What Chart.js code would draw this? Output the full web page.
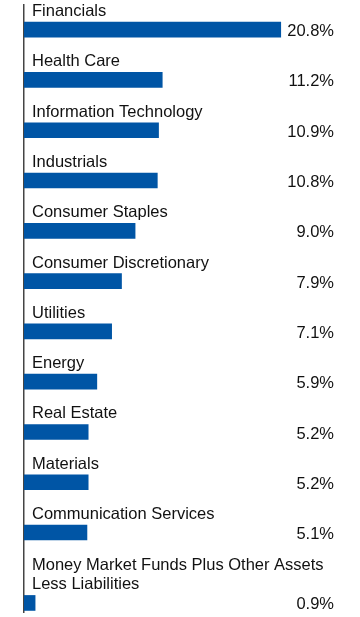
<!DOCTYPE html>
<html>
<head>
<meta charset="utf-8">
<script src="https://cdn.jsdelivr.net/npm/chart.js@4"></script>
<style>
  html, body { margin: 0; padding: 0; background: #fff; }
  #wrap { width: 360px; height: 617px; }
</style>
</head>
<body>
<div id="wrap"><canvas id="sector-chart"></canvas></div>
<script>
const categories = [
  ["Financials"],
  ["Health Care"],
  ["Information Technology"],
  ["Industrials"],
  ["Consumer Staples"],
  ["Consumer Discretionary"],
  ["Utilities"],
  ["Energy"],
  ["Real Estate"],
  ["Materials"],
  ["Communication Services"],
  ["Money Market Funds Plus Other Assets", "Less Liabilities"]
];
const values = [20.8, 11.2, 10.9, 10.8, 9.0, 7.9, 7.1, 5.9, 5.2, 5.2, 5.1, 0.9];
const valueLabels = ["20.8%", "11.2%", "10.9%", "10.8%", "9.0%", "7.9%", "7.1%", "5.9%", "5.2%", "5.2%", "5.1%", "0.9%"];

// each row takes one slot, plus a bit more for every extra label line
const rowPos = [];
categories.forEach((lines, i) => {
  rowPos.push(i === 0 ? 0 : rowPos[i - 1] + 1 + (lines.length - 1) * 0.4);
});

const FONT = "16.5px 'Liberation Sans', Arial, sans-serif";

const labelPlugin = {
  id: "labels",
  afterDatasetsDraw(chart) {
    const ctx = chart.ctx;
    const meta = chart.getDatasetMeta(0);
    ctx.save();
    ctx.font = FONT;
    ctx.fillStyle = "#111";
    meta.data.forEach((bar, i) => {
      const top = bar.y - bar.height / 2;
      const lines = categories[i];
      ctx.textAlign = "left";
      ctx.textBaseline = "alphabetic";
      lines.forEach((t, k) => {
        ctx.fillText(t, 32, top - 6 - (lines.length - 1 - k) * 19);
      });
      ctx.textAlign = "right";
      ctx.textBaseline = "middle";
      ctx.fillText(valueLabels[i], 334, bar.y + 2);
    });
    ctx.restore();
  }
};

new Chart("sector-chart", {
  type: "bar",
  data: {
    datasets: [{
      data: values.map((v, i) => ({ x: v, y: rowPos[i] })),
      backgroundColor: "#0055A5",
      borderWidth: 0,
      barThickness: 15
    }]
  },
  options: {
    indexAxis: "y",
    responsive: true,
    maintainAspectRatio: false,
    animation: false,
    layout: { padding: { left: 24, right: 20, top: 5, bottom: 5 } },
    plugins: { legend: { display: false }, tooltip: { enabled: false } },
    scales: {
      x: { type: "linear", min: 0, max: 25.6, display: false },
      y: {
        type: "linear",
        reverse: true,
        offset: false,
        min: -0.49,
        max: 11.58,
        ticks: { display: false },
        grid: { display: false, drawTicks: false, offset: false },
        border: { display: true, color: "#444", width: 1.5 }
      }
    }
  },
  plugins: [labelPlugin]
});
</script>
</body>
</html>
